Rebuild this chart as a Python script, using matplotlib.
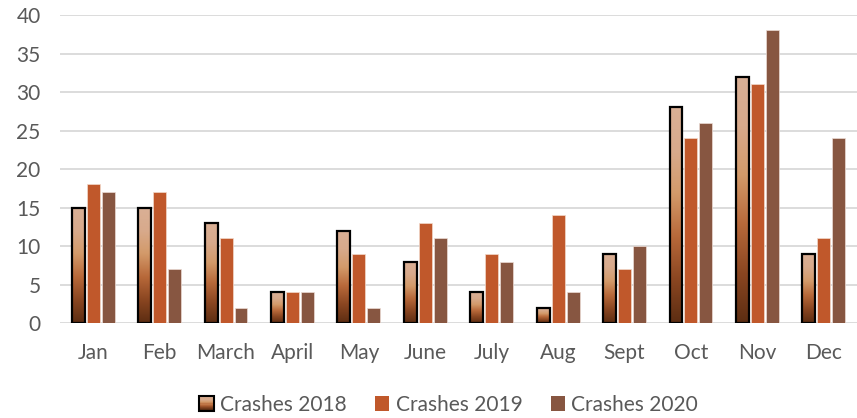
import numpy as np
import matplotlib.pyplot as plt
from matplotlib.colors import LinearSegmentedColormap
from matplotlib.patches import Rectangle
from matplotlib.legend_handler import HandlerBase

months = ["Jan", "Feb", "March", "April", "May", "June", "July", "Aug", "Sept", "Oct", "Nov", "Dec"]
crashes_2018 = [15, 15, 13, 4, 12, 8, 4, 2, 9, 28, 32, 9]
crashes_2019 = [18, 17, 11, 4, 9, 13, 9, 14, 7, 24, 31, 11]
crashes_2020 = [17, 7, 2, 4, 2, 11, 8, 4, 10, 26, 38, 24]

plt.rcParams['font.family'] = ['Lato', 'DejaVu Sans']
text_col = '#595959'

# gradient for the 2018 bars, dark at the bottom, light at the top
grad = LinearSegmentedColormap.from_list('g18', ['#5c2d12', '#8a4621', '#b8693a', '#d39a6a', '#d8aa8c', '#dab096'])

fig = plt.figure(figsize=(8.57, 4.18), dpi=100)
ax = fig.add_axes([0.07, 0.227, 0.93, 0.737])

x = np.arange(len(months))
w = 0.195
off = 0.225

gimg = np.linspace(0, 1, 256).reshape(-1, 1)
bars18 = ax.bar(x - off, crashes_2018, w, facecolor='none', edgecolor='black', linewidth=1.6, zorder=4)
for b in bars18:
    x0, y0 = b.get_x(), b.get_y()
    ax.imshow(gimg, cmap=grad, origin='lower', aspect='auto',
              extent=(x0, x0 + b.get_width(), y0, y0 + b.get_height()), zorder=3)

ax.bar(x, crashes_2019, w, color='#c0582b', edgecolor='#f3d9cc', linewidth=0.5, zorder=3)
ax.bar(x + off, crashes_2020, w, color='#875641', edgecolor='#ecdcd5', linewidth=0.5, zorder=3)

ax.set_xlim(-0.5, 11.5)
ax.set_ylim(0, 40)
ax.set_yticks(range(0, 41, 5))
ax.set_xticks(x)
ax.set_xticklabels(months)
ax.grid(axis='y', color='#d9d9d9', linewidth=1.3, zorder=0)
ax.set_axisbelow(True)
for s in ax.spines.values():
    s.set_visible(False)
ax.tick_params(length=0, labelsize=15, labelcolor=text_col)
ax.tick_params(axis='x', pad=14)
ax.tick_params(axis='y', pad=14)


class GradHandler(HandlerBase):
    def create_artists(self, legend, orig, xd, yd, width, height, fontsize, trans):
        sz = height * 1.0
        x0 = xd + width - sz
        n = 12
        arts = []
        for i in range(n):
            r = Rectangle((x0, yd + sz * i / n), sz, sz / n + 0.2,
                          facecolor=grad(i / (n - 1)), edgecolor='none', transform=trans)
            arts.append(r)
        arts.append(Rectangle((x0, yd), sz, sz, facecolor='none', edgecolor='black',
                              linewidth=1.5, transform=trans))
        return arts


class SquareHandler(HandlerBase):
    def __init__(self, color):
        super().__init__()
        self.color = color

    def create_artists(self, legend, orig, xd, yd, width, height, fontsize, trans):
        sz = height * 1.0
        return [Rectangle((xd + width - sz, yd), sz, sz, facecolor=self.color,
                          edgecolor='none', transform=trans)]


h1, h2, h3 = object(), object(), object()
leg = fig.legend([h1, h2, h3], ['Crashes 2018', 'Crashes 2019', 'Crashes 2020'],
                 handler_map={h1: GradHandler(), h2: SquareHandler('#c0582b'), h3: SquareHandler('#875641')},
                 loc='center', bbox_to_anchor=(0.523, 0.032), ncol=3, frameon=False,
                 fontsize=15, handlelength=0.75, handletextpad=0.3, columnspacing=1.3)
for t in leg.get_texts():
    t.set_color(text_col)

fig.savefig('out.png', dpi=100)
